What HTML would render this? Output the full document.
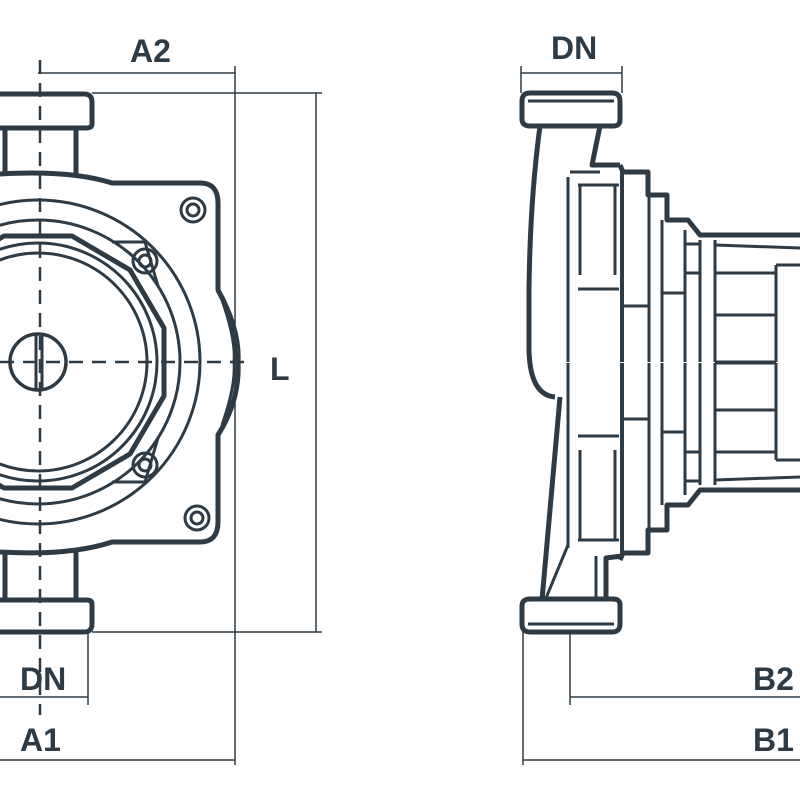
<!DOCTYPE html>
<html><head><style>body{margin:0;background:#fff}svg{display:block}text{font-family:"Liberation Sans Narrow","Liberation Sans",sans-serif;font-size:32px;font-weight:bold;fill:#2e3b44}</style></head><body>
<svg width="800" height="800" viewBox="0 0 800 800" xmlns="http://www.w3.org/2000/svg">
<g fill="none" stroke="#2e3b44" stroke-linejoin="round">
<g stroke-width="1.5">
<line x1="38" y1="73" x2="235" y2="73"/>
<line x1="235" y1="66" x2="235" y2="765"/>
<line x1="92" y1="93" x2="322" y2="93"/>
<line x1="92" y1="632" x2="322" y2="632"/>
<line x1="316" y1="93" x2="316" y2="632"/>
<line x1="0" y1="697" x2="88" y2="697"/>
<line x1="88" y1="632" x2="88" y2="705"/>
<line x1="0" y1="760" x2="235" y2="760"/>
<line x1="521" y1="73" x2="622" y2="73"/>
<line x1="521" y1="66" x2="521" y2="93"/>
<line x1="622" y1="66" x2="622" y2="93"/>
<line x1="523" y1="632" x2="523" y2="765"/>
<line x1="570" y1="632" x2="570" y2="705"/>
<line x1="570" y1="697" x2="800" y2="697"/>
<line x1="523" y1="760" x2="800" y2="760"/>
</g>
<g stroke-width="2.5" stroke-dasharray="14 9">
<line x1="40" y1="60" x2="40" y2="715"/>
<line x1="0" y1="362" x2="250" y2="362"/>
</g>
<g stroke-width="5">
<path d="M0 94 H84 Q92 94 92 102 V124 Q92 128 86 128 H0"/>
<path d="M0 632 H84 Q92 632 92 624 V604 Q92 600 86 600 H0"/>
<path d="M5 128 V175 M76 128 V175"/>
<path d="M5 600 V550 M76 600 V550"/>
<path d="M0 174 Q70 170 112 183 H200 Q218 183 218 203 V290 Q240 330 238 362 Q240 400 218 435 V522 Q218 542 200 542 H112 Q70 556 0 552"/>
<circle cx="38" cy="362" r="28" stroke-width="3.5"/>
<line x1="36" y1="334" x2="36" y2="390" stroke-width="3"/>
<line x1="42" y1="334" x2="42" y2="390" stroke-width="3"/>
<polygon points="164,328 130,270 72,236 4,236 -54,270 -88,328 -88,396 -54,454 4,488 72,488 130,454 164,396"/>
</g>
<g stroke-width="3">
<circle cx="38" cy="362" r="162"/>
<circle cx="38" cy="362" r="142"/>
<circle cx="38" cy="362" r="109"/>
<circle cx="38" cy="362" r="119"/>
<path d="M112 242 L145 242 L158 286 M112 482 L145 482 L158 438"/>
<circle cx="193" cy="210" r="12"/><circle cx="193" cy="210" r="6"/>
<circle cx="145" cy="261" r="12"/><circle cx="145" cy="261" r="6"/>
<circle cx="145" cy="465" r="12"/><circle cx="145" cy="465" r="6"/>
<circle cx="197" cy="518" r="12"/><circle cx="197" cy="518" r="6"/>
<path d="M222 300 Q236 340 234 362 Q236 385 222 425"/>
</g>
<g id="rh">
<g stroke-width="5">
<path d="M530 93 H612 Q620 93 620 101 V120 Q620 126 613 126 H530 Q522 126 522 119 V101 Q522 93 530 93 Z"/>
<path d="M620 165 L623 172 H648 V195 H667 V220 H688 L700 235 H800"/>
</g>
<g stroke-width="3">
<line x1="528" y1="101" x2="614" y2="101"/>
<line x1="568" y1="177" x2="568" y2="362"/>
<path d="M578 185 H619 M580 185 V275 M615 185 V275 M578 289 H619"/>
<line x1="622" y1="172" x2="622" y2="362" stroke-width="4"/>
<line x1="649" y1="195" x2="649" y2="362"/>
<line x1="662" y1="220" x2="662" y2="362"/>
<line x1="685" y1="230" x2="685" y2="362"/>
<line x1="700" y1="240" x2="700" y2="362"/>
<line x1="715" y1="240" x2="715" y2="362"/>
<line x1="776" y1="265" x2="776" y2="362"/>
<line x1="715" y1="245" x2="800" y2="248"/>
<line x1="776" y1="265" x2="800" y2="265"/>
<line x1="622" y1="306" x2="649" y2="306"/>
<line x1="662" y1="293" x2="685" y2="293"/>
<line x1="685" y1="244" x2="700" y2="244"/>
<line x1="685" y1="273" x2="700" y2="273"/>
<line x1="715" y1="273" x2="776" y2="273"/>
<line x1="715" y1="315" x2="776" y2="315"/>
<line x1="715" y1="362" x2="776" y2="362"/>
</g>
</g>
<use href="#rh" transform="translate(0,725) scale(1,-1)"/>
<g stroke-width="5">
<path d="M540 126 Q530 200 529 290 V350 Q530 395 555 397"/>
<path d="M600 126 L592 165 H620"/>
<path d="M560 397 L542 600"/>
<path d="M606 600 V558 L622 556"/>
</g>
<g stroke-width="3">
<path d="M568 545 L546 598 M596 556 V600"/>
<line x1="570" y1="172" x2="600" y2="172"/>
</g>
</g>
<text x="130" y="62">A2</text>
<text x="551" y="59">DN</text>
<text x="270" y="380">L</text>
<text x="20" y="690">DN</text>
<text x="20" y="751">A1</text>
<text x="753" y="690">B2</text>
<text x="753" y="751">B1</text>
</svg>
</body></html>
